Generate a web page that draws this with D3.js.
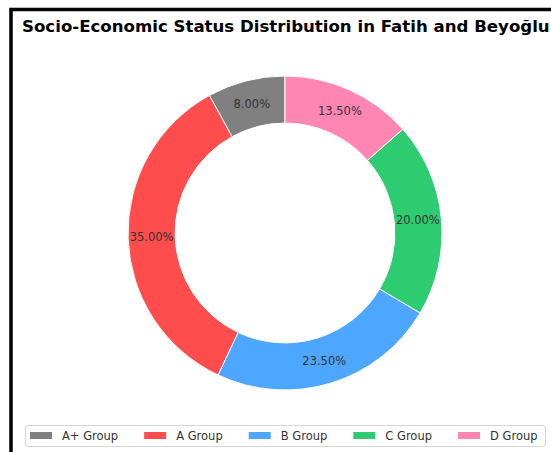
<!DOCTYPE html>
<html>
<head>
  <meta charset="utf-8">
  <title>Socio-Economic Status</title>
  <script src="https://cdn.jsdelivr.net/npm/d3@7"></script>
  <style>
    body { margin: 0; background: #fff; }
    svg { display: block; font-family: "DejaVu Sans", sans-serif; }
  </style>
</head>
<body>
  <svg width="551" height="452"></svg>
<script>
  var groups = ["A+ Group", "A Group", "B Group", "C Group", "D Group"];
  var shares = [8, 35, 23.5, 20, 13.5];
  var colors = ["#808080", "#ff4c4c", "#4da6ff", "#2ecc71", "#ff85b3"];

  var svg = d3.select("svg"),
      cx = 285, cy = 233, R = 157;

  // figure frame (only left and top edges are visible)
  svg.append("rect")
      .attr("x", 11).attr("y", 9.5)
      .attr("width", 600).attr("height", 500)
      .attr("fill", "none")
      .attr("stroke", "#000")
      .attr("stroke-width", 3.5);

  svg.append("text")
      .attr("x", 22).attr("y", 32)
      .style("font-size", "16.6px")
      .style("font-weight", "bold")
      .text("Socio-Economic Status Distribution in Fatih and Beyoğlu");

  var pie = d3.pie()
      .sort(null)
      .value(function(d) { return d; })
      .startAngle(0)
      .endAngle(-2 * Math.PI);

  var arc = d3.arc().innerRadius(R * 0.7).outerRadius(R);
  var labelArc = d3.arc().innerRadius(R * 0.85).outerRadius(R * 0.85);

  var g = svg.append("g").attr("transform", "translate(" + cx + "," + cy + ")");
  var arcs = pie(shares);

  g.selectAll("path")
    .data(arcs)
    .enter().append("path")
      .attr("d", arc)
      .attr("fill", function(d, i) { return colors[i]; })
      .attr("stroke", "#fff")
      .attr("stroke-width", 1);

  g.selectAll("text")
    .data(arcs)
    .enter().append("text")
      .attr("transform", function(d) { return "translate(" + labelArc.centroid(d) + ")"; })
      .attr("text-anchor", "middle")
      .attr("dy", "0.35em")
      .style("font-size", "11.5px")
      .attr("fill", "#333")
      .text(function(d) { return d.value.toFixed(2) + "%"; });

  // legend
  var legend = svg.append("g");
  legend.append("rect")
      .attr("x", 25.5).attr("y", 425.5)
      .attr("width", 520).attr("height", 21)
      .attr("rx", 2.5)
      .attr("fill", "#fff")
      .attr("stroke", "#d6d6d6");

  var xpos = 30;
  groups.forEach(function(name, i) {
    legend.append("rect")
        .attr("x", xpos).attr("y", 432)
        .attr("width", 22).attr("height", 7)
        .attr("fill", colors[i]);
    var t = legend.append("text")
        .attr("x", xpos + 32).attr("y", 435.5)
        .attr("dy", "0.35em")
        .style("font-size", "11.5px")
        .attr("fill", "#333")
        .text(name);
    xpos += 32 + t.node().getComputedTextLength() + 26;
  });
</script>
</body>
</html>
